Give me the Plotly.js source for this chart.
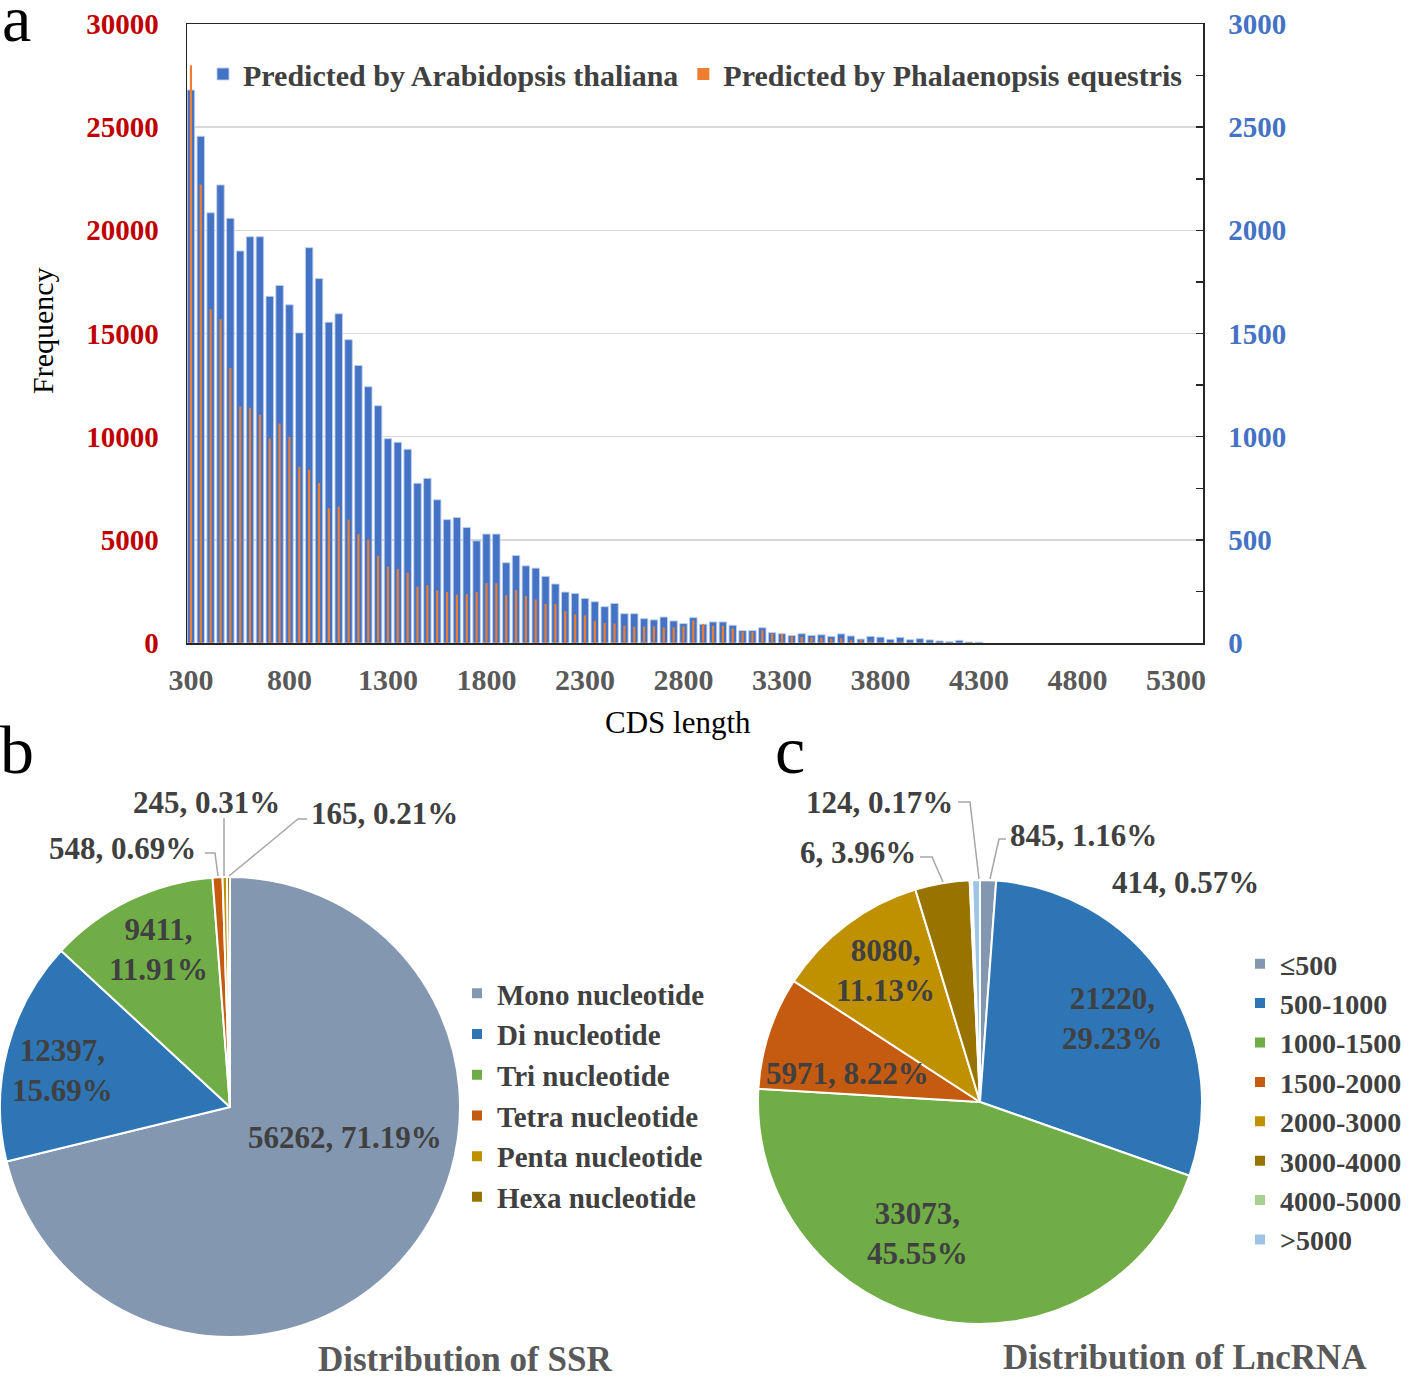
<!DOCTYPE html>
<html>
<head>
<meta charset="utf-8">
<script src="https://cdn.plot.ly/plotly-3.0.1.min.js"></script>
<style>html,body{margin:0;padding:0;background:#fff;}#chart{width:1418px;height:1380px;}</style>
</head>
<body>
<div id="chart"></div>
<script>
// ---------- DATA ----------
const cdsBins = [300,350,400,450,500,550,600,650,700,750,800,850,900,950,1000,1050,1100,1150,1200,1250,
  1300,1350,1400,1450,1500,1550,1600,1650,1700,1750,1800,1850,1900,1950,2000,2050,2100,2150,2200,2250,
  2300,2350,2400,2450,2500,2550,2600,2650,2700,2750,2800,2850,2900,2950,3000,3050,3100,3150,3200,3250,
  3300,3350,3400,3450,3500,3550,3600,3650,3700,3750,3800,3850,3900,3950,4000,4050,4100,4150,4200,4250,4300];
// Predicted by Arabidopsis thaliana (left axis)
const arabidopsis = [26800,24560,20850,22200,20580,19000,19690,19690,16800,17330,
  16390,15030,19160,17660,15550,15960,14700,13450,12420,11500,
  9900,9730,9390,7740,7980,6940,5980,6080,5600,4950,
  5280,5280,3890,4240,3740,3630,3230,2860,2470,2400,
  2160,2000,1760,1920,1420,1420,1180,1120,1260,1070,
  940,1230,910,1020,1020,860,600,600,740,500,
  450,360,450,370,400,320,440,340,190,320,
  285,180,275,160,210,150,100,65,130,50,40];
// Predicted by Phalaenopsis equestris (right axis)
const phalaenopsis = [2800,2222,1618,1569,1333,1146,1140,1107,992,1064,
  998,854,840,776,653,661,598,528,501,423,
  370,359,341,273,281,255,247,234,237,247,
  290,290,232,257,227,211,190,190,155,139,
  134,107,97,94,84,79,80,81,76,76,
  81,110,92,83,83,71,55,53,63,44,
  44,32,29,28,26,21,23,13,15,8,
  6,5,6,4,4,2,2,1,1,1,0];
const xTickVals = [300,800,1300,1800,2300,2800,3300,3800,4300,4800,5300];
const leftTickVals = [0,5000,10000,15000,20000,25000,30000];
const rightTickVals = [0,500,1000,1500,2000,2500,3000];

const ssrLabels = ['Mono nucleotide','Di nucleotide','Tri nucleotide','Tetra nucleotide','Penta nucleotide','Hexa nucleotide'];
const ssrValues = [56262,12397,9411,548,245,165];
const ssrPercents = ['71.19%','15.69%','11.91%','0.69%','0.31%','0.21%'];

const lncLabels = ['≤500','500-1000','1000-1500','1500-2000','2000-3000','3000-4000','4000-5000','>5000'];
const lncValues = [845,21220,33073,5971,8080,2875,124,414];
const lncCountText = ['845','21220','33073','5971','8080','6','124','414'];
const lncPercents = ['1.16%','29.23%','45.55%','8.22%','11.13%','3.96%','0.17%','0.57%'];

// ---------- STYLE / LAYOUT ----------
const W = 1418, H = 1380;
const PX = x => x / W, PY = y => 1 - y / H;
const SERIF = 'Liberation Serif, Times New Roman, serif';
const ssrColors = ['#8497B0','#2E75B6','#70AD47','#C55A11','#BF9000','#997300'];
const lncColors = ['#8497B0','#2E75B6','#70AD47','#C55A11','#BF9000','#997300','#A9D18E','#9DC3E6'];

// label positions (px) and line-break flag
const ssrLabelPos = [[345,1137,false],[62,1070,true],[158,950,true],[122,848,false],[206,802,false],[384,813,false]];
const lncLabelPos = [[1083,835,false],[1112,1018,true],[917,1233,true],[848,1073,false],[885,970,true],[858,852,false],[879,802,false],[1185,882,false]];

const traces = [
  {type:'bar', x:cdsBins, y:arabidopsis, name:'Predicted by Arabidopsis thaliana', xaxis:'x', yaxis:'y',
   width:38, marker:{color:'#4472C4', line:{color:'rgba(190,208,236,0.9)', width:1}}, hoverinfo:'x+y'},
  {type:'bar', x:cdsBins, y:phalaenopsis, name:'Predicted by Phalaenopsis equestris', xaxis:'x', yaxis:'y2',
   width:11, marker:{color:'#ED7D31'}, hoverinfo:'x+y'},
  {type:'pie', labels:ssrLabels, values:ssrValues, sort:false, direction:'clockwise', rotation:0,
   textinfo:'none', hoverinfo:'label+value+percent', legend:'legend2',
   domain:{x:[PX(0),PX(460)], y:[PY(1337),PY(877)]},
   marker:{colors:ssrColors, line:{color:'#ffffff', width:2}}},
  {type:'pie', labels:lncLabels, values:lncValues, sort:false, direction:'clockwise', rotation:0,
   textinfo:'none', hoverinfo:'label+value+percent', legend:'legend3',
   domain:{x:[PX(758),PX(1202)], y:[PY(1324),PY(880)]},
   marker:{colors:lncColors, line:{color:'#ffffff', width:2}}}
];

const annotations = [];
function ann(text, x, y, size, opts){
  annotations.push(Object.assign({text:text, x:PX(x), y:PY(y), xref:'paper', yref:'paper', showarrow:false,
    xanchor:'center', yanchor:'middle', font:{family:SERIF, size:size, color:'#404040', weight:'bold'}}, opts||{}));
}
ssrValues.forEach((v,i)=>{
  const p = ssrLabelPos[i];
  ann(v + ',' + (p[2] ? '<br>' : ' ') + ssrPercents[i], p[0], p[1], 31);
});
lncCountText.forEach((v,i)=>{
  const p = lncLabelPos[i];
  ann(v + ',' + (p[2] ? '<br>' : ' ') + lncPercents[i], p[0], p[1], 31);
});
ann('Distribution of SSR', 465, 1359, 35, {font:{family:SERIF, size:35, color:'#595959', weight:'bold'}});
ann('Distribution of LncRNA', 1185, 1357, 35, {font:{family:SERIF, size:35, color:'#595959', weight:'bold'}});
ann('a', 16, 18, 66, {font:{family:SERIF, size:66, color:'#000000'}});
ann('b', 17, 750, 68, {font:{family:SERIF, size:68, color:'#000000'}});
ann('c', 790, 750, 68, {font:{family:SERIF, size:68, color:'#000000'}});
ann('Frequency', 42, 331, 30, {textangle:-90, font:{family:SERIF, size:30, color:'#000000'}});
ann('CDS length', 678, 722, 31, {font:{family:SERIF, size:31, color:'#000000'}});

// leader lines (px)
const leaderLines = [
  [[205,853],[215,853],[218,876]],
  [[224,818],[224,876]],
  [[307,819],[298,819],[229,876]],
  [[958,802],[970,802],[979,879]],
  [[1006,839],[999,839],[990,879]],
  [[920,857],[932,857],[943,882]]
];
const shapes = leaderLines.map(pts => ({
  type:'path', xref:'paper', yref:'paper',
  path: pts.map((p,i)=>(i?'L':'M')+PX(p[0]).toFixed(5)+','+PY(p[1]).toFixed(5)).join(' '),
  line:{color:'#A6A6A6', width:1.5}
}));

const layout = {
  width:W, height:H, margin:{l:0,r:0,t:0,b:0},
  paper_bgcolor:'#ffffff', plot_bgcolor:'#ffffff',
  barmode:'overlay',
  xaxis:{domain:[PX(187),PX(1203)], range:[280,5437], tickmode:'array', tickvals:xTickVals,
    ticks:'', showgrid:false, zeroline:false, showline:true, mirror:true, linecolor:'#262626', linewidth:1.5,
    tickfont:{family:SERIF, size:30, color:'#595959', weight:'bold'}, ticklabelstandoff:9},
  yaxis:{domain:[PY(643),PY(24)], range:[0,30000], tickmode:'array', tickvals:leftTickVals, tickformat:'d',
    showgrid:true, gridcolor:'#D9D9D9', gridwidth:1.5, zeroline:false, showline:true, linecolor:'#262626', linewidth:1.5,
    ticks:'', tickfont:{family:SERIF, size:29, color:'#C00000', weight:'bold'}, ticklabelstandoff:21},
  yaxis2:{overlaying:'y', side:'right', range:[0,3000], tickmode:'array', tickvals:rightTickVals, tickformat:'d',
    showgrid:false, zeroline:false, showline:true, linecolor:'#262626', linewidth:1.5,
    ticks:'inside', ticklen:7, tickcolor:'#262626', tickwidth:1.5,
    minor:{ticks:'inside', dtick:250, ticklen:7, tickcolor:'#262626', tickwidth:1.5, showgrid:false},
    tickfont:{family:SERIF, size:29, color:'#4472C4', weight:'bold'}, ticklabelstandoff:18},
  legend:{orientation:'h', x:PX(203), xanchor:'left', y:PY(48), yanchor:'top',
    bgcolor:'rgba(0,0,0,0)', font:{family:SERIF, size:30, color:'#404040', weight:'bold'}},
  legend2:{x:PX(457), xanchor:'left', y:PY(968), yanchor:'top', bgcolor:'rgba(0,0,0,0)',
    font:{family:SERIF, size:29, color:'#404040', weight:'bold'}},
  legend3:{x:PX(1240), xanchor:'left', y:PY(939), yanchor:'top', bgcolor:'rgba(0,0,0,0)',
    font:{family:SERIF, size:28, color:'#404040', weight:'bold'}},
  annotations:annotations,
  shapes:shapes,
  showlegend:true
};

Plotly.newPlot('chart', traces, layout, {displayModeBar:false, staticPlot:true});
</script>
</body>
</html>
